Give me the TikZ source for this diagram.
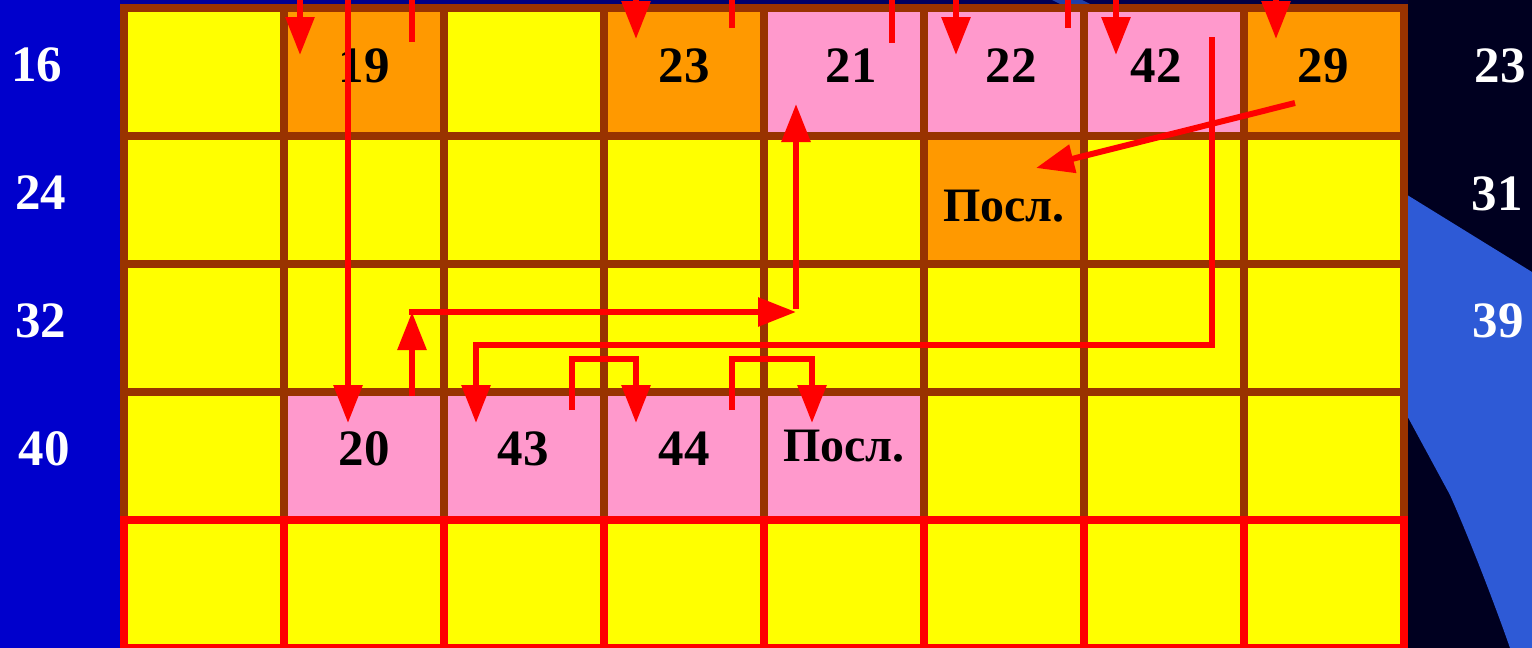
\documentclass[tikz,border=0pt]{standalone}
\usepackage{fontspec}
\setmainfont{Liberation Serif}
\usetikzlibrary{arrows.meta}
\definecolor{gridbrown}{HTML}{993300}
\definecolor{cY}{HTML}{FFFF00}
\definecolor{cO}{HTML}{FF9900}
\definecolor{cP}{HTML}{FF99CC}
\definecolor{leftblue}{HTML}{0000CC}
\definecolor{darknavy}{HTML}{000020}
\definecolor{topblue}{HTML}{0000A0}
\definecolor{topdark}{HTML}{000038}
\definecolor{wedgeblue}{HTML}{2E5AD6}
\definecolor{arrred}{HTML}{FF0000}
\begin{document}
\begin{tikzpicture}[x=1pt,y=-1pt,
  cell/.style={rectangle,minimum width=160pt,minimum height=128pt,inner sep=0pt,line width=8pt,draw=gridbrown},
  lastcell/.style={cell,draw=arrred},
  num/.style={inner sep=0pt,font=\fontsize{51}{51}\selectfont\bfseries},
  side/.style={num,text=white},
  posl/.style={inner sep=0pt,font=\fontsize{48}{48}\selectfont\bfseries},
  arrline/.style={draw=arrred,line width=6pt},
  arr/.style={arrline,-{Triangle[width=28pt,length=38pt]}}]
\useasboundingbox (0,0) rectangle (1532,648);
% backgrounds
\fill[leftblue] (0,0) rectangle (124,648);
\fill[darknavy] (1404,0) rectangle (1532,648);
\shade[left color=topblue,right color=topdark] (120,0) rectangle (1408,6);
\fill[wedgeblue!70!topdark] (1052,0) -- (1082,0) -- (1094,6) -- (1064,6) -- cycle;
\fill[wedgeblue] (1404,193) -- (1532,272) -- (1532,648) -- (1510,648)
  .. controls (1495,605) and (1470,540) .. (1450,495) -- (1404,410) -- cycle;
% grid cells
\foreach \r/\pat in {0/{Y,O,Y,O,P,P,P,O},1/{Y,Y,Y,Y,Y,O,Y,Y},2/{Y,Y,Y,Y,Y,Y,Y,Y},3/{Y,P,P,P,P,Y,Y,Y}}{
  \foreach \k [count=\c from 0] in \pat {
    \node[cell,fill=c\k] (c\r\c) at ({204+160*\c},{72+128*\r}) {};
  }
}
\foreach \c in {0,...,7}{
  \node[lastcell,fill=cY] (c4\c) at ({204+160*\c},584) {};
}
% labels in cells
\node[num] (n19) at (364,66) {19};
\node[num] (n23) at (684,66) {23};
\node[num] (n21) at (851,66) {21};
\node[num] (n22) at (1011,66) {22};
\node[num] (n42) at (1156,66) {42};
\node[num] (n29) at (1323,66) {29};
\node[posl] (p1) at (1004,206) {Посл.};
\node[num] (n20) at (364,449) {20};
\node[num] (n43) at (523,449) {43};
\node[num] (n44) at (684,449) {44};
\node[posl] (p2) at (844,446) {Посл.};
% side labels
\node[side] (l16) at (37,65) {16};
\node[side] (l24) at (41,193) {24};
\node[side] (l32) at (41,321) {32};
\node[side] (l40) at (44,449) {40};
\node[side] (r23) at (1500,66) {23};
\node[side] (r31) at (1497,194) {31};
\node[side] (r39) at (1498,321) {39};
% connector coordinates
\coordinate (a1s) at (300,0);   \coordinate (a1e) at (300,55);
\coordinate (a2s) at (348,0);   \coordinate (a2e) at (348,423);
\coordinate (l3s) at (412,0);   \coordinate (l3e) at (412,42);
\coordinate (a4s) at (636,0);   \coordinate (a4e) at (636,39);
\coordinate (l5s) at (732,0);   \coordinate (l5e) at (732,28);
\coordinate (l6s) at (892,0);   \coordinate (l6e) at (892,43);
\coordinate (a7s) at (956,0);   \coordinate (a7e) at (956,55);
\coordinate (l8s) at (1068,0);  \coordinate (l8e) at (1068,28);
\coordinate (a9s) at (1116,0);  \coordinate (a9e) at (1116,55);
\coordinate (a10s) at (1276,0); \coordinate (a10e) at (1276,39);
\coordinate (b1) at (1212,37);  \coordinate (b2) at (1212,345);
\coordinate (b3) at (476,345);  \coordinate (b4) at (476,423);
\coordinate (d1) at (1295,103); \coordinate (d2) at (1036,168);
\coordinate (u1) at (412,396);  \coordinate (u2) at (412,312);
\coordinate (h2) at (796,312);  \coordinate (v2) at (796,104);
\coordinate (k1) at (572,410);  \coordinate (k2) at (572,359);
\coordinate (k3) at (636,359);  \coordinate (k4) at (636,423);
\coordinate (m1) at (732,410);  \coordinate (m2) at (732,359);
\coordinate (m3) at (812,359);  \coordinate (m4) at (812,423);
% connectors
\draw[arr] (a1s) -- (a1e);
\draw[arr] (a2s) -- (a2e);
\draw[arrline] (l3s) -- (l3e);
\draw[arr] (a4s) -- (a4e);
\draw[arrline] (l5s) -- (l5e);
\draw[arrline] (l6s) -- (l6e);
\draw[arr] (a7s) -- (a7e);
\draw[arrline] (l8s) -- (l8e);
\draw[arr] (a9s) -- (a9e);
\draw[arr] (a10s) -- (a10e);
\draw[arr] (b1) -- (b2) -- (b3) -- (b4);
\draw[arr] (d1) -- (d2);
\draw[arr] (u1) -- (u2);
\draw[arr] ([xshift=-3pt]u2) -- (h2);
\draw[arr] ([yshift=3pt]h2) -- (v2);
\draw[arr] (k1) -- (k2) -- (k3) -- (k4);
\draw[arr] (m1) -- (m2) -- (m3) -- (m4);
\end{tikzpicture}
\end{document}
